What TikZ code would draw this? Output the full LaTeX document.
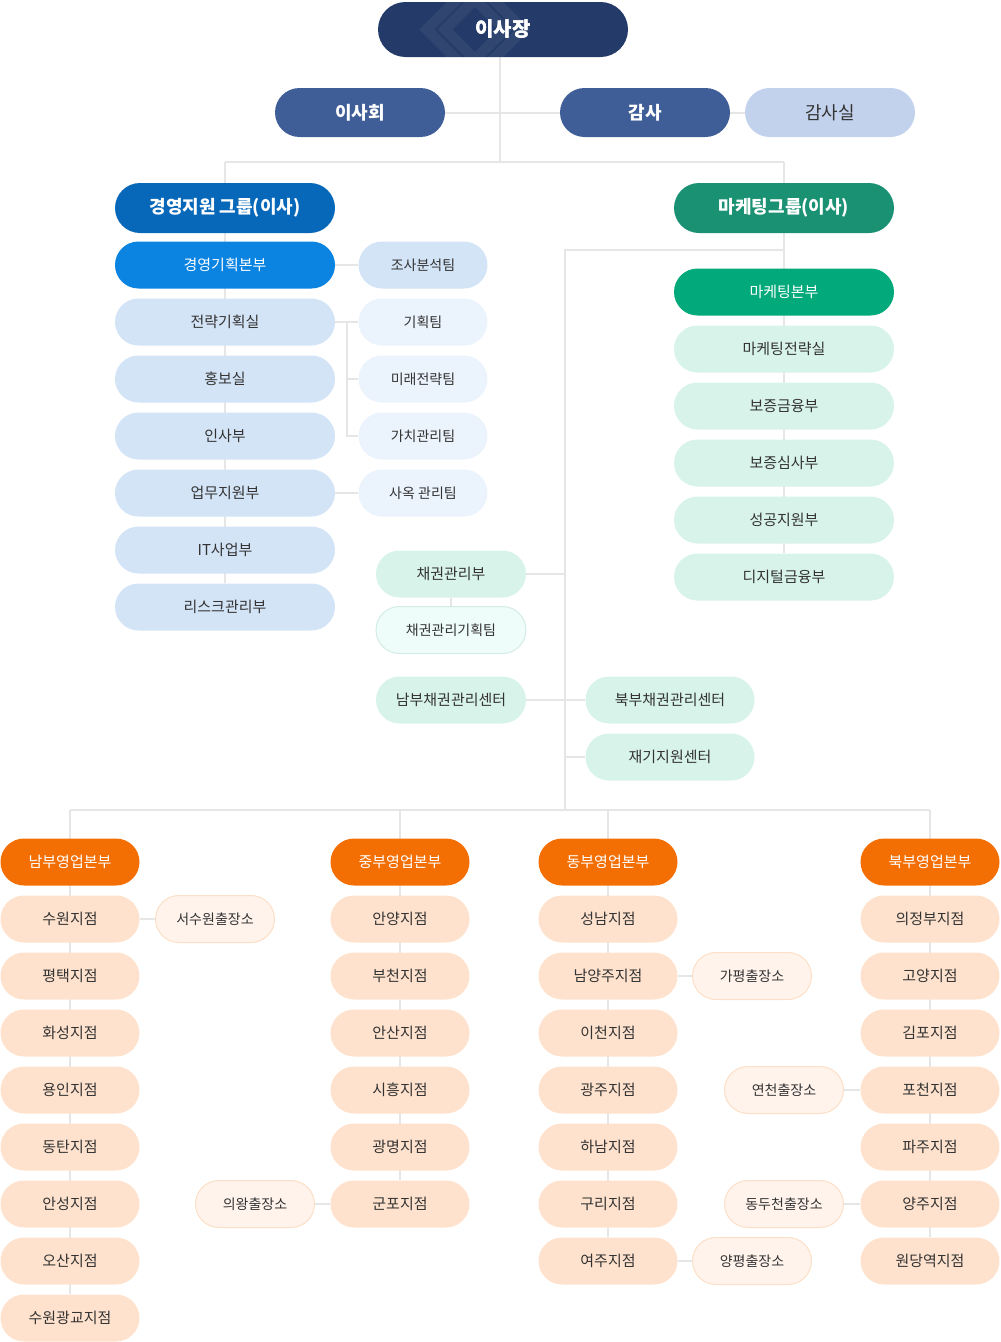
\documentclass[tikz,border=0pt]{standalone}
\usepackage{fontspec}
\setmainfont{Noto Sans CJK KR}
\usetikzlibrary{positioning,backgrounds}

\definecolor{navy}{HTML}{243B69}
\definecolor{board}{HTML}{3F5E98}
\definecolor{auditroom}{HTML}{C3D2EC}
\definecolor{mgmt}{HTML}{0767B9}
\definecolor{mgmtdiv}{HTML}{0A83E1}
\definecolor{mgmtlight}{HTML}{D4E4F7}
\definecolor{teamlight}{HTML}{EBF3FD}
\definecolor{mkt}{HTML}{1A9172}
\definecolor{mktdiv}{HTML}{02A97B}
\definecolor{mktlight}{HTML}{D8F3EA}
\definecolor{bondlight}{HTML}{EFFDFA}
\definecolor{bondline}{HTML}{D3ECE4}
\definecolor{sales}{HTML}{F36F04}
\definecolor{branchfill}{HTML}{FEE2CD}
\definecolor{outfill}{HTML}{FFF3EC}
\definecolor{outline}{HTML}{FCDFC6}
\definecolor{wire}{HTML}{E6E6E6}
\definecolor{ink}{HTML}{333333}

\begin{document}
\begin{tikzpicture}[x=0.75pt, y=-0.75pt,
    pill/.style={rectangle, inner sep=0pt, text=ink, minimum height=35.25pt, rounded corners=17.6pt,
        font=\fontsize{11.25pt}{13pt}\selectfont},
    top/.style={pill, fill=navy, text=white, minimum width=187.5pt, minimum height=41.25pt,
        rounded corners=20.6pt, font=\fontsize{15pt}{17pt}\selectfont\bfseries},
    boardbox/.style={pill, fill=board, text=white, minimum width=127.5pt, minimum height=36.75pt,
        rounded corners=18.4pt, font=\fontsize{13.5pt}{16pt}\selectfont\bfseries},
    group/.style={pill, text=white, minimum width=165pt, minimum height=37.5pt,
        rounded corners=18.75pt, font=\fontsize{13.5pt}{16pt}\selectfont\bfseries},
    dept/.style={pill, fill=mgmtlight, minimum width=165pt},
    team/.style={pill, fill=teamlight, minimum width=96.75pt, font=\fontsize{10.5pt}{12pt}\selectfont},
    mktdept/.style={pill, fill=mktlight, minimum width=165pt},
    bond/.style={pill, fill=mktlight, minimum width=112.5pt},
    hq/.style={pill, fill=sales, text=white, minimum width=104.25pt},
    branch/.style={pill, fill=branchfill, minimum width=104.25pt},
    outpost/.style={pill, fill=outfill, draw=outline, line width=0.75pt, minimum width=89.25pt,
        font=\fontsize{10.5pt}{12pt}\selectfont},
    link/.style={draw=wire, line width=1.5pt}]
\useasboundingbox (0,0) rectangle (1000,1342);

% board level
\node[top] (ceo) at (503,29.5) {이사장};
\begin{scope}
  \clip[rounded corners=20.6pt] (ceo.south west) rectangle (ceo.north east);
  \foreach \r in {30,48}
    \draw[white, opacity=0.06, line width=8pt, rotate around={45:(475,29.5)}]
      ({475-\r/1.41},{29.5-\r/1.41}) rectangle ({475+\r/1.41},{29.5+\r/1.41});
\end{scope}
\node[top, fill=none] at (503,29.5) {이사장};
\node[boardbox] (brd) at (360,112.5) {이사회};
\node[boardbox] (aud) at (645,112.5) {감사};
\node[boardbox, fill=auditroom, text=ink, font=\fontsize{13.5pt}{16pt}\selectfont] (audroom) at (830,112.5) {감사실};
\coordinate (spine) at (500,162);

% groups
\node[group, fill=mgmt] (mgmt) at (225,208) {경영지원 그룹(이사)};
\node[group, fill=mkt] (mkt) at (784,208) {마케팅그룹(이사)};

% management support
\node[dept, fill=mgmtdiv, text=white] (plan) at (225,265) {경영기획본부};
\foreach \name [count=\i] in {전략기획실,홍보실,인사부,업무지원부,IT사업부,리스크관리부}
  \node[dept] (d\i) at (225,{265+57*\i}) {\name};
\node[team, fill=mgmtlight] (research) at (423,265) {조사분석팀};
\foreach \name [count=\i] in {기획팀,미래전략팀,가치관리팀,사옥 관리팀}
  \node[team] (t\i) at (423,{265+57*\i}) {\name};
\coordinate (tb) at (347,322);

% marketing
\node[mktdept, fill=mktdiv, text=white] (mktdiv) at (784,292) {마케팅본부};
\foreach \name [count=\i] in {마케팅전략실,보증금융부,보증심사부,성공지원부,디지털금융부}
  \node[mktdept] (m\i) at (784,{292+57*\i}) {\name};
\coordinate (bend) at (565,250);
\coordinate (bus) at (565,810);

% bonds
\node[bond] (bond) at (451,574) {채권관리부};
\node[bond, fill=bondlight, draw=bondline, line width=0.75pt, font=\fontsize{10.5pt}{12pt}\selectfont] (bondplan) at (451,630) {채권관리기획팀};
\node[bond] (southbond) at (451,700) {남부채권관리센터};
\node[bond, minimum width=126.75pt] (northbond) at (670,700) {북부채권관리센터};
\node[bond, minimum width=126.75pt] (recover) at (670,757) {재기지원센터};

% sales headquarters
\node[hq] (shq) at (70,862) {남부영업본부};
\node[hq] (chq) at (400,862) {중부영업본부};
\node[hq] (ehq) at (608,862) {동부영업본부};
\node[hq] (nhq) at (930,862) {북부영업본부};
\foreach \name [count=\i] in {수원지점,평택지점,화성지점,용인지점,동탄지점,안성지점,오산지점,수원광교지점}
  \node[branch] (s\i) at (70,{862+57*\i}) {\name};
\foreach \name [count=\i] in {안양지점,부천지점,안산지점,시흥지점,광명지점,군포지점}
  \node[branch] (c\i) at (400,{862+57*\i}) {\name};
\foreach \name [count=\i] in {성남지점,남양주지점,이천지점,광주지점,하남지점,구리지점,여주지점}
  \node[branch] (e\i) at (608,{862+57*\i}) {\name};
\foreach \name [count=\i] in {의정부지점,고양지점,김포지점,포천지점,파주지점,양주지점,원당역지점}
  \node[branch] (n\i) at (930,{862+57*\i}) {\name};

% outposts
\node[outpost] (seosuwon) at (215,919) {서수원출장소};
\node[outpost] (uiwang) at (255,1204) {의왕출장소};
\node[outpost] (gapyeong) at (752,976) {가평출장소};
\node[outpost] (yangpyeong) at (752,1261) {양평출장소};
\node[outpost] (yeoncheon) at (784,1090) {연천출장소};
\node[outpost] (dongducheon) at (784,1204) {동두천출장소};

\begin{scope}[on background layer]
  % top
  \draw[link] (ceo.south -| spine) -- (spine);
  \draw[link] (brd) -- (aud) -- (audroom);
  \draw[link] (mgmt |- spine) -- (mkt |- spine);
  \draw[link] (mgmt |- spine) -- (d6);
  \draw[link] (mkt |- spine) -- (m5);
  % teams
  \draw[link] (plan) -- (research);
  \draw[link] (d1) -- (t1);
  \draw[link] (tb) |- (t3.west);
  \draw[link] (t2.west -| tb) -- (t2.west);
  \draw[link] (d4) -- (t4);
  % marketing branch line
  \draw[link] (mkt |- bend) -- (bend) -- (bus);
  \draw[link] (bond) -- (bond -| bend);
  \draw[link] (bond) -- (bondplan);
  \draw[link] (southbond) -- (northbond);
  \draw[link] (recover) -- (recover -| bend);
  % sales
  \draw[link] (shq |- bus) -- (nhq |- bus);
  \draw[link] (shq |- bus) -- (s8);
  \draw[link] (chq |- bus) -- (c6);
  \draw[link] (ehq |- bus) -- (e7);
  \draw[link] (nhq |- bus) -- (n7);
  \draw[link] (s1) -- (seosuwon);
  \draw[link] (c6) -- (uiwang);
  \draw[link] (e2) -- (gapyeong);
  \draw[link] (e7) -- (yangpyeong);
  \draw[link] (n4) -- (yeoncheon);
  \draw[link] (n6) -- (dongducheon);
\end{scope}
\end{tikzpicture}
\end{document}
